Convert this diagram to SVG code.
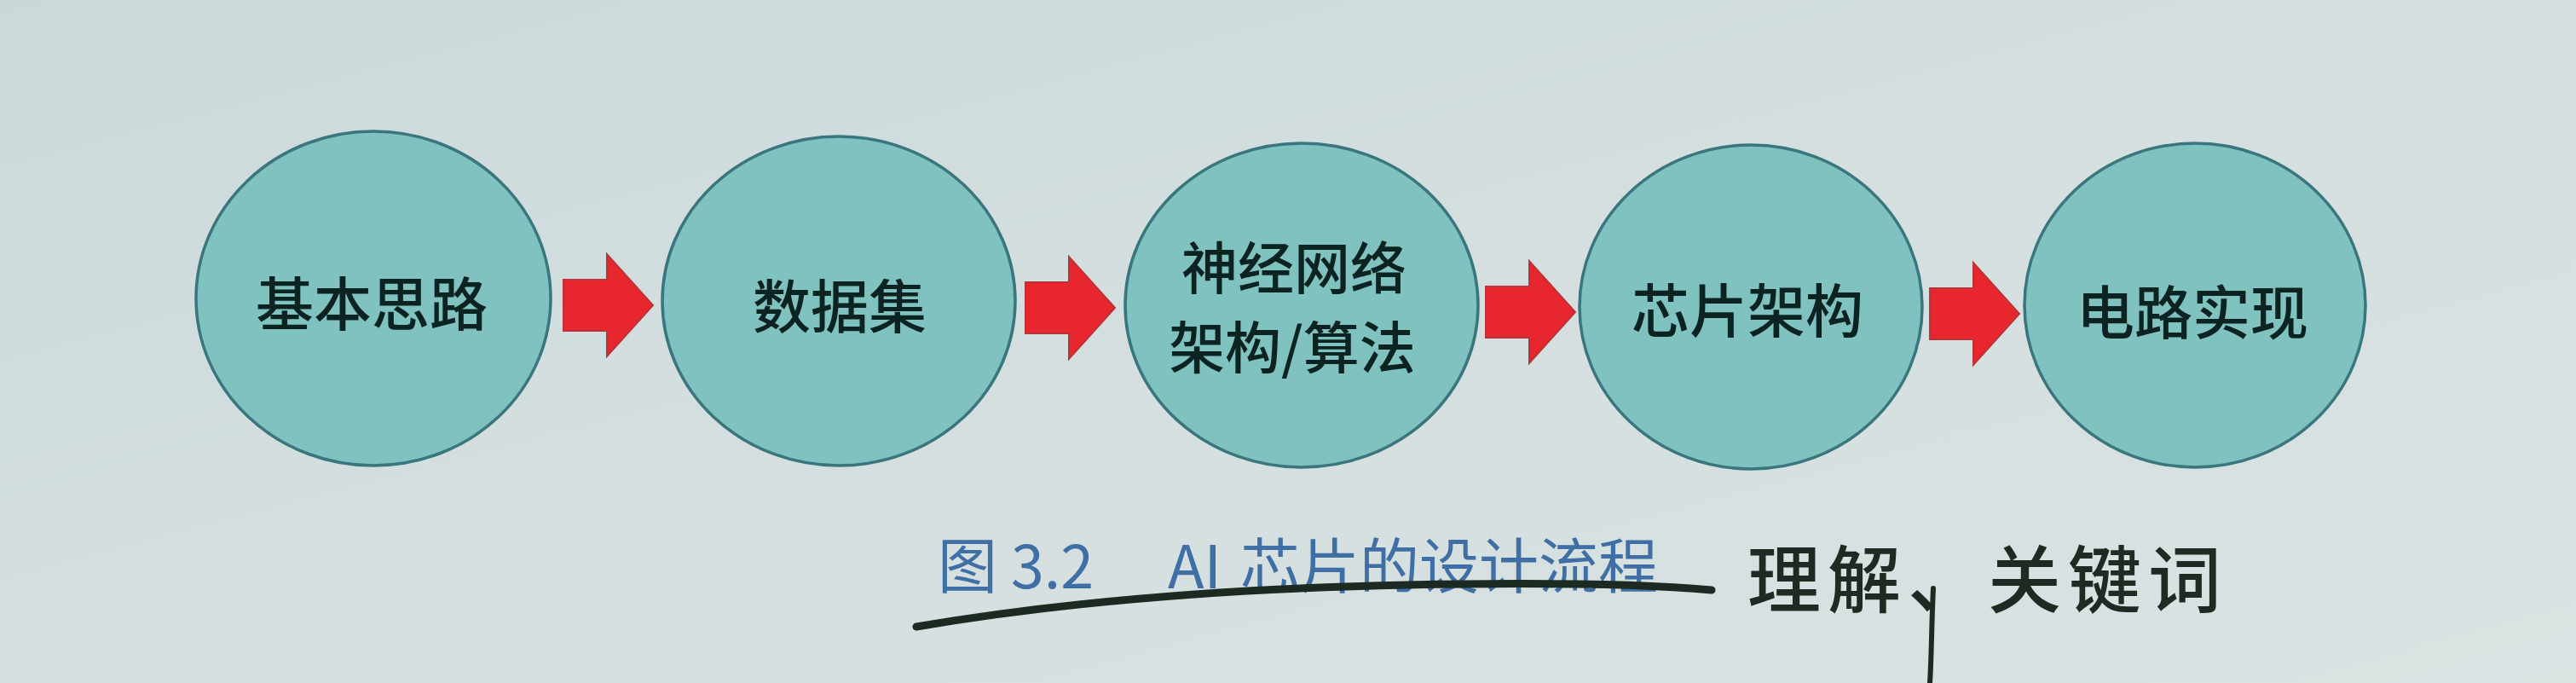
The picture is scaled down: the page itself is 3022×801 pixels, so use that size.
<svg xmlns="http://www.w3.org/2000/svg" width="3022" height="801" viewBox="0 0 3022 801">
<defs>
<linearGradient id="bg" x1="0" y1="0" x2="1" y2="1">
<stop offset="0" stop-color="#cbd8da"/>
<stop offset="0.5" stop-color="#d5dfe0"/>
<stop offset="1" stop-color="#dae2e2"/>
</linearGradient>
<path id="arr" d="M0,-30 L51,-30 L51,-60 L105,0 L51,60 L51,30 L0,30 Z"/>
<style>
.node{fill:#80c2c0;stroke:#3a767d;stroke-width:3.5}
.lbl{font-family:"Noto Sans CJK SC","Noto Sans",sans-serif;font-size:68px;font-weight:500;fill:#0c2421;text-anchor:middle;dominant-baseline:central}
.lbl2{font-size:66px}
.arrow{fill:#e8262d;stroke:#b8343a;stroke-width:2}
.cap{font-family:"Noto Sans CJK SC","Noto Sans",sans-serif;font-size:70px;fill:#3f6fa4;font-weight:400}
.hand{font-family:"Noto Sans CJK SC",sans-serif;font-size:86px;fill:#1f2a22;font-weight:500;letter-spacing:8px}
.pen{fill:none;stroke:#1d2a22;stroke-linecap:round}
</style>
</defs>
<rect width="3022" height="801" fill="url(#bg)"/>
<g id="n1"><ellipse class="node" cx="438" cy="350" rx="208" ry="196"/><text class="lbl" x="436" y="352">基本思路</text></g>
<g id="n2"><ellipse class="node" cx="984" cy="353" rx="207" ry="193"/><text class="lbl" x="985" y="355">数据集</text></g>
<g id="n3"><ellipse class="node" cx="1527" cy="358" rx="207" ry="190"/><text class="lbl lbl2" x="1518" y="310">神经网络</text><text class="lbl lbl2" x="1516" y="403">架构/算法</text></g>
<g id="n4"><ellipse class="node" cx="2054" cy="360" rx="201" ry="190"/><text class="lbl" x="2050" y="360">芯片架构</text></g>
<g id="n5"><ellipse class="node" cx="2575" cy="358" rx="200" ry="190"/><text class="lbl" x="2572" y="362">电路实现</text></g>
<g id="connectors">
<use href="#arr" class="arrow" transform="translate(661,358)"/>
<use href="#arr" class="arrow" transform="translate(1203,361)"/>
<use href="#arr" class="arrow" transform="translate(1743,366)"/>
<use href="#arr" class="arrow" transform="translate(2264,368)"/>
</g>
<g id="caption">
<text class="cap" y="690"><tspan x="1100">图</tspan><tspan x="1186">3.2</tspan><tspan x="1370">AI</tspan><tspan x="1455">芯片的设计流程</tspan></text>
</g>
<g id="annotation">
<path class="pen" stroke-width="9" d="M1075,735 C1250,705 1450,690 1650,686 C1800,683 1920,684 2008,692"/>
<path class="pen" stroke-width="6" d="M2268,690 C2266,730 2266,770 2264,801"/>
<text class="hand" x="2050" y="712">理解、关键词</text>
</g>
</svg>
